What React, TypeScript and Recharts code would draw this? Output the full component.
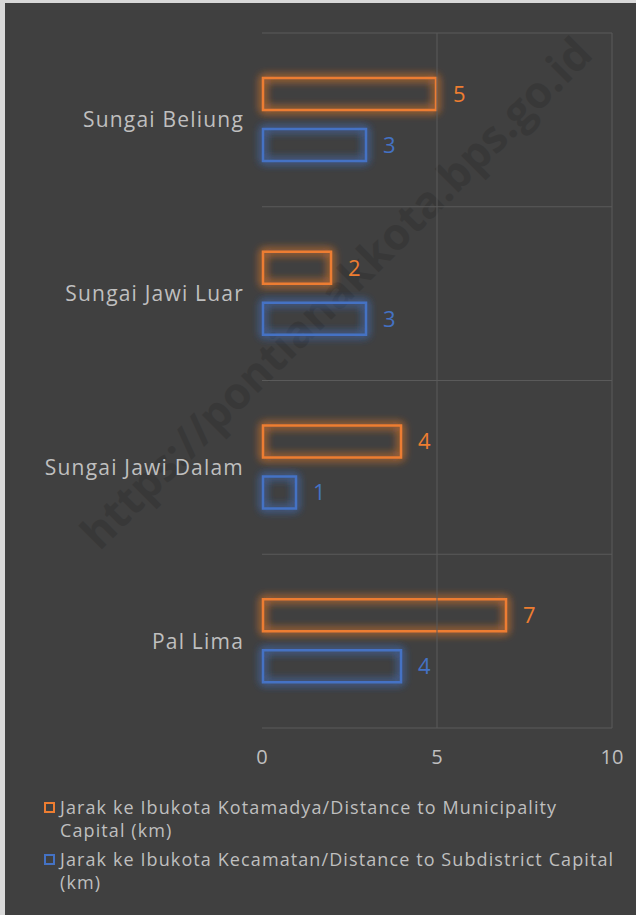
import React from "react";
import {
  BarChart,
  Bar,
  XAxis,
  YAxis,
  CartesianGrid,
  ReferenceLine,
  LabelList,
} from "recharts";

const categories = [
  "Sungai Beliung",
  "Sungai Jawi Luar",
  "Sungai Jawi Dalam",
  "Pal Lima",
];
const municipalityKm = [5, 2, 4, 7];
const subdistrictKm = [3, 3, 1, 4];
const xTicks = [0, 5, 10];

const seriesNames = [
  "Jarak ke Ibukota Kotamadya/Distance to Municipality Capital (km)",
  "Jarak ke Ibukota Kecamatan/Distance to Subdistrict Capital (km)",
];

const data = categories.map((name, i) => ({
  name,
  municipality: municipalityKm[i],
  subdistrict: subdistrictKm[i],
}));

const orange = "#ED7D31";
const blue = "#4472C4";
const textColor = "#bfbfbf";
const gridColor = "#5a5a5a";
const font = "'Open Sans', sans-serif";

function glowShape(color: string, filterId: string) {
  return (props: any) => {
    const { x, y, width, height } = props;
    if (width == null || height == null) return null;
    return (
      <rect
        x={x + 1}
        y={y + 1}
        width={Math.max(width - 2, 0)}
        height={Math.max(height - 2, 0)}
        fill="none"
        stroke={color}
        strokeWidth={2.5}
        filter={`url(#${filterId})`}
      />
    );
  };
}

function GlowFilter({ id }: { id: string }) {
  return (
    <filter id={id} x="-60%" y="-80%" width="220%" height="260%">
      <feGaussianBlur in="SourceGraphic" stdDeviation="5" result="b" />
      <feMerge>
        <feMergeNode in="b" />
        <feMergeNode in="b" />
        <feMergeNode in="SourceGraphic" />
      </feMerge>
    </filter>
  );
}

export default function App() {
  const legend = [
    { name: seriesNames[0], color: orange },
    { name: seriesNames[1], color: blue },
  ];

  return (
    <div
      style={{
        position: "absolute",
        left: 0,
        top: 0,
        width: 636,
        height: 915,
        background: "#d9d9d9",
        fontFamily: font,
      }}
    >
      <div
        style={{
          position: "absolute",
          left: 5,
          top: 3,
          width: 631,
          height: 912,
          background: "#404040",
          overflow: "hidden",
        }}
      >
        <div
          style={{
            position: "absolute",
            left: 330,
            top: 289,
            transform: "translate(-50%, -50%) rotate(-45deg)",
            fontSize: 44,
            fontWeight: 700,
            color: "#383838",
            whiteSpace: "nowrap",
          }}
        >
          https://pontianakkota.bps.go.id
        </div>
        <div style={{ position: "absolute", left: 0, top: 0 }}>
          <BarChart
            width={631}
            height={790}
            data={data}
            layout="vertical"
            margin={{ top: 30, right: 24, left: 0, bottom: 0 }}
            barSize={34}
            barGap={17}
          >
            <defs>
              <GlowFilter id="glowOrange" />
              <GlowFilter id="glowBlue" />
            </defs>
            <CartesianGrid
              stroke={gridColor}
              vertical={false}
              horizontalCoordinatesGenerator={({ offset }: any) =>
                categories
                  .map((_, i) => offset.top + (i * offset.height) / categories.length)
                  .concat(offset.top + offset.height)
              }
            />
            {xTicks
              .filter((t) => t > 0)
              .map((t) => (
                <ReferenceLine key={t} x={t} stroke={gridColor} />
              ))}
            <XAxis
              type="number"
              domain={[0, 10]}
              ticks={xTicks}
              axisLine={false}
              tickLine={false}
              tickSize={0}
              tickMargin={22}
              height={65}
              tick={{ fill: textColor, fontSize: 20 }}
            />
            <YAxis
              type="category"
              dataKey="name"
              width={257}
              axisLine={false}
              tickLine={false}
              tickSize={0}
              tickMargin={18}
              tick={{ fill: textColor, fontSize: 21, letterSpacing: 1.2 }}
            />
            <Bar
              dataKey="municipality"
              name={seriesNames[0]}
              shape={glowShape(orange, "glowOrange")}
              isAnimationActive={false}
            >
              <LabelList
                dataKey="municipality"
                position="right"
                offset={16}
                fill={orange}
                fontSize={22}
              />
            </Bar>
            <Bar
              dataKey="subdistrict"
              name={seriesNames[1]}
              shape={glowShape(blue, "glowBlue")}
              isAnimationActive={false}
            >
              <LabelList
                dataKey="subdistrict"
                position="right"
                offset={16}
                fill={blue}
                fontSize={22}
              />
            </Bar>
          </BarChart>
        </div>
        <div
          style={{
            position: "absolute",
            left: 39,
            top: 793,
            width: 580,
            color: textColor,
            fontSize: 18,
            letterSpacing: 1.1,
            lineHeight: "23px",
          }}
        >
          {legend.map((item) => (
            <div
              key={item.name}
              style={{ display: "flex", alignItems: "flex-start", marginBottom: 6 }}
            >
              <span
                style={{
                  display: "inline-block",
                  boxSizing: "border-box",
                  width: 11,
                  height: 11,
                  border: `2px solid ${item.color}`,
                  marginTop: 6,
                  marginRight: 5,
                  flexShrink: 0,
                }}
              />
              <span style={{ width: 565 }}>{item.name}</span>
            </div>
          ))}
        </div>
      </div>
    </div>
  );
}
